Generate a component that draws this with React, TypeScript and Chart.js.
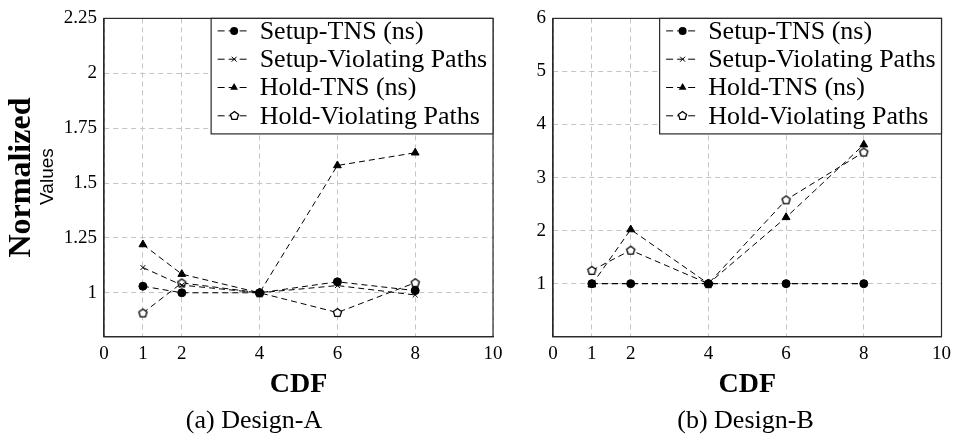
import React, { useEffect, useRef } from 'react';
import { Chart, registerables } from 'chart.js';
Chart.register(...registerables);

// ---------- data ----------
const CDF = [1, 2, 4, 6, 8];
const SERIES_NAMES = ['Setup-TNS (ns)', 'Setup-Violating Paths', 'Hold-TNS (ns)', 'Hold-Violating Paths'];

const A_SETUP_TNS = [1.03, 1.0, 1.0, 1.05, 1.01];
const A_SETUP_VIOL = [1.115, 1.035, 1.0, 1.033, 0.99];
const A_HOLD_TNS = [1.22, 1.085, 1.0, 1.58, 1.638];
const A_HOLD_VIOL = [0.908, 1.045, 1.0, 0.91, 1.046];

const B_SETUP_TNS = [1.0, 1.0, 1.0, 1.0, 1.0];
const B_SETUP_VIOL = [1.0, 1.0, 1.0, 1.0, 1.0];
const B_HOLD_TNS = [0.98, 2.02, 1.0, 2.25, 3.62];
const B_HOLD_VIOL = [1.25, 1.63, 1.0, 2.58, 3.48];

const X_TICKS = [0, 1, 2, 4, 6, 8, 10];
const A_Y_TICKS = [1, 1.25, 1.5, 1.75, 2, 2.25];
const B_Y_TICKS = [1, 2, 3, 4, 5, 6];

const X_TITLE = 'CDF';
const Y_TITLE = 'Normalized';
const Y_SUBTITLE = 'Values';
const CAPTION_A = '(a) Design-A';
const CAPTION_B = '(b) Design-B';

// ---------- styles ----------
const SERIF = '"Liberation Serif", "Times New Roman", serif';
const SANS = '"Liberation Sans", Arial, sans-serif';
const GRID = '#c4c4c4';

function makePentagon(): HTMLCanvasElement {
  const c = document.createElement('canvas');
  c.width = 13;
  c.height = 13;
  const g = c.getContext('2d')!;
  g.beginPath();
  for (let k = 0; k < 5; k++) {
    const a = -Math.PI / 2 + (k * 2 * Math.PI) / 5;
    const px = 6.5 + 4.3 * Math.cos(a);
    const py = 6.8 + 4.3 * Math.sin(a);
    if (k) g.lineTo(px, py);
    else g.moveTo(px, py);
  }
  g.closePath();
  g.fillStyle = '#fff';
  g.fill();
  g.strokeStyle = '#000';
  g.lineWidth = 1.3;
  g.stroke();
  return c;
}

function makeDataset(label: string, ys: number[], style: any, radius: number) {
  return {
    label,
    data: CDF.map((x, i) => ({ x, y: ys[i] })),
    borderColor: '#000',
    backgroundColor: '#000',
    borderWidth: 1,
    borderDash: [6, 4],
    pointStyle: style,
    pointRadius: radius,
    pointHoverRadius: radius,
    pointBorderWidth: 1,
    pointBackgroundColor: '#000',
    pointBorderColor: '#000',
    showLine: true,
    tension: 0,
    fill: false,
  };
}

function drawMarker(ctx: CanvasRenderingContext2D, style: any, x: number, y: number, r: number) {
  ctx.save();
  ctx.fillStyle = '#000';
  ctx.strokeStyle = '#000';
  ctx.lineWidth = 1;
  ctx.setLineDash([]);
  if (style instanceof HTMLCanvasElement) {
    ctx.drawImage(style, Math.round(x - style.width / 2), Math.round(y - style.height / 2));
  } else if (style === 'circle') {
    ctx.beginPath();
    ctx.arc(x, y, r, 0, Math.PI * 2);
    ctx.fill();
  } else if (style === 'crossRot') {
    const d = r * Math.SQRT1_2;
    ctx.beginPath();
    ctx.moveTo(x - d, y - d);
    ctx.lineTo(x + d, y + d);
    ctx.moveTo(x - d, y + d);
    ctx.lineTo(x + d, y - d);
    ctx.stroke();
  } else if (style === 'triangle') {
    ctx.beginPath();
    for (let k = 0; k < 3; k++) {
      const a = (k * 2 * Math.PI) / 3;
      const px = x + Math.sin(a) * r;
      const py = y - Math.cos(a) * r;
      if (k) ctx.lineTo(px, py);
      else ctx.moveTo(px, py);
    }
    ctx.closePath();
    ctx.fill();
  }
  ctx.restore();
}

function makeDecorPlugin(caption: string, captionX: number, showSub: boolean) {
  return {
    id: 'decor',
    afterDraw(chart: any) {
      const { ctx, chartArea } = chart;
      ctx.save();
      // frame
      ctx.setLineDash([]);
      ctx.strokeStyle = '#2a2a2a';
      ctx.lineWidth = 1.2;
      ctx.strokeRect(chartArea.left, chartArea.top, chartArea.right - chartArea.left, chartArea.bottom - chartArea.top);

      // legend box
      const font = `26px ${SERIF}`;
      ctx.font = font;
      const dss = chart.data.datasets;
      const maxW = Math.max(...dss.map((d: any) => ctx.measureText(d.label).width));
      const padL = 6.5, sampleW = 33, gap = 9, padR = 6;
      const boxW = padL + sampleW + gap + maxW + padR;
      const boxH = 115.5;
      const x0 = chartArea.right - boxW;
      const y0 = chartArea.top;
      ctx.fillStyle = '#fff';
      ctx.fillRect(x0, y0, boxW, boxH);
      ctx.strokeStyle = '#2a2a2a';
      ctx.lineWidth = 1.2;
      ctx.strokeRect(x0, y0, boxW, boxH);
      dss.forEach((d: any, i: number) => {
        const cy = y0 + 12.5 + i * 28.3;
        ctx.setLineDash([7, 4]);
        ctx.strokeStyle = '#000';
        ctx.lineWidth = 1;
        ctx.beginPath();
        ctx.moveTo(x0 + padL, cy);
        ctx.lineTo(x0 + padL + sampleW, cy);
        ctx.stroke();
        ctx.setLineDash([]);
        drawMarker(ctx, d.pointStyle, x0 + padL + sampleW / 2, cy, d.pointRadius);
        ctx.fillStyle = '#000';
        ctx.textBaseline = 'middle';
        ctx.textAlign = 'left';
        ctx.font = font;
        ctx.fillText(d.label, x0 + padL + sampleW + gap, cy + 1);
      });

      // y sub-title
      if (showSub) {
        ctx.save();
        ctx.translate(48, (chartArea.top + chartArea.bottom) / 2 - 1);
        ctx.rotate(-Math.PI / 2);
        ctx.font = `19px ${SANS}`;
        ctx.fillStyle = '#000';
        ctx.textAlign = 'center';
        ctx.textBaseline = 'middle';
        ctx.fillText(Y_SUBTITLE, 0, 0);
        ctx.restore();
      }

      // caption
      ctx.font = `26px ${SERIF}`;
      ctx.fillStyle = '#000';
      ctx.textAlign = 'center';
      ctx.textBaseline = 'middle';
      ctx.fillText(caption, captionX, 421.5);
      ctx.restore();
    },
  };
}

function makeConfig(
  ys: number[][],
  yMin: number,
  yMax: number,
  yTicks: number[],
  yWidth: number,
  yTitle: boolean,
  padRight: number,
  caption: string,
  captionX: number,
  pentagon: HTMLCanvasElement
): any {
  const styles: any[] = ['circle', 'crossRot', 'triangle', pentagon];
  const radii = [4, 3.5, 4.5, 4.5];
  return {
    type: 'line',
    data: {
      datasets: SERIES_NAMES.map((n, i) => makeDataset(n, ys[i], styles[i], radii[i])),
    },
    options: {
      animation: false,
      responsive: false,
      events: [],
      layout: { padding: { top: 14, right: padRight, bottom: 36.3, left: 0 } },
      plugins: { legend: { display: false }, tooltip: { enabled: false }, title: { display: false } },
      scales: {
        x: {
          type: 'linear',
          min: 0,
          max: 10,
          afterBuildTicks: (s: any) => {
            s.ticks = X_TICKS.map((v) => ({ value: v }));
          },
          afterFit: (s: any) => {
            s.height = 70;
          },
          grid: { color: GRID, lineWidth: 1, drawTicks: false },
          border: { display: true, color: '#2a2a2a', width: 1.2, dash: [5, 4] },
          ticks: {
            color: '#000',
            font: { family: SERIF, size: 19 },
            padding: 6,
            autoSkip: false,
            maxRotation: 0,
            callback: (v: any) => String(v),
          },
          title: {
            display: true,
            text: X_TITLE,
            color: '#000',
            font: { family: SERIF, size: 28, weight: 'bold' },
            padding: { top: 0, bottom: 5 },
          },
        },
        y: {
          type: 'linear',
          min: yMin,
          max: yMax,
          afterBuildTicks: (s: any) => {
            s.ticks = yTicks.map((v) => ({ value: v }));
          },
          afterFit: (s: any) => {
            s.width = yWidth;
          },
          grid: { color: GRID, lineWidth: 1, drawTicks: false },
          border: { display: true, color: '#2a2a2a', width: 1.2, dash: [5, 4] },
          ticks: {
            color: '#000',
            font: { family: SERIF, size: 19 },
            padding: 7,
            autoSkip: false,
            callback: (v: any) => String(v),
          },
          title: {
            display: yTitle,
            text: Y_TITLE,
            color: '#000',
            font: { family: SERIF, size: 32, weight: 'bold' },
            padding: { top: 3, bottom: 0 },
          },
        },
      },
    },
    plugins: [makeDecorPlugin(caption, captionX, yTitle)],
  };
}

export default function App() {
  const leftRef = useRef<HTMLCanvasElement>(null);
  const rightRef = useRef<HTMLCanvasElement>(null);

  useEffect(() => {
    const pent = makePentagon();
    const a = new Chart(
      leftRef.current!,
      makeConfig(
        [A_SETUP_TNS, A_SETUP_VIOL, A_HOLD_TNS, A_HOLD_VIOL],
        0.8,
        2.25,
        A_Y_TICKS,
        104,
        true,
        27,
        CAPTION_A,
        254,
        pent
      )
    );
    const b = new Chart(
      rightRef.current!,
      makeConfig(
        [B_SETUP_TNS, B_SETUP_VIOL, B_HOLD_TNS, B_HOLD_VIOL],
        0,
        6,
        B_Y_TICKS,
        53,
        false,
        15,
        CAPTION_B,
        245.5,
        pent
      )
    );
    return () => {
      a.destroy();
      b.destroy();
    };
  }, []);

  return (
    <div style={{ position: 'absolute', left: 0, top: 0, width: 957, height: 443, background: '#fff', overflow: 'hidden' }}>
      <canvas ref={leftRef} width={520} height={443} style={{ position: 'absolute', left: 0, top: 0, width: 520, height: 443 }} />
      <canvas ref={rightRef} width={457} height={443} style={{ position: 'absolute', left: 500, top: 0, width: 457, height: 443 }} />
    </div>
  );
}
